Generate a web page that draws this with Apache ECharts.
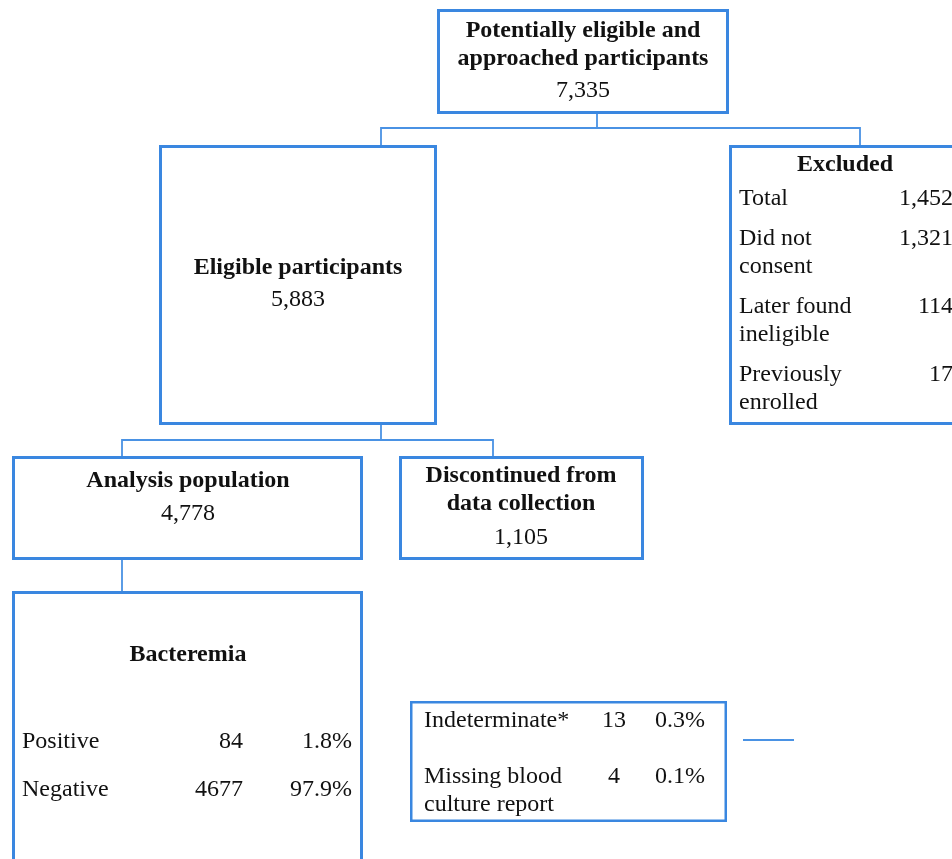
<!DOCTYPE html>
<html>
<head>
<meta charset="utf-8">
<script src="https://cdn.jsdelivr.net/npm/echarts@6/dist/echarts.min.js"></script>
<style>
html,body{margin:0;padding:0;background:#fff;}
#chart{width:952px;height:859px;}
</style>
</head>
<body>
<div id="chart"></div>
<script>
// ---- data ----
const flowTitles = ['Potentially eligible and\napproached participants', 'Eligible participants', 'Excluded', 'Analysis population', 'Discontinued from\ndata collection'];
const flowCounts = [7335, 5883, 1452, 4778, 1105];
const excludedReasons = ['Total', 'Did not\nconsent', 'Later found\nineligible', 'Previously\nenrolled'];
const excludedCounts = [1452, 1321, 114, 17];
const bacteremiaTitle = 'Bacteremia';
const bacteremiaCategories = ['Positive', 'Negative'];
const bacteremiaCounts = [84, 4677];
const bacteremiaPct = [1.8, 97.9];
const otherCategories = ['Indeterminate*', 'Missing blood\nculture report'];
const otherCounts = [13, 4];
const otherPct = [0.3, 0.1];

// ---- layout (positions / styles) ----
const BOX = '#3a87e0';
const LINE = '#4a92e4';
const TXT = '#111';
const FONT = '"Liberation Serif", "Times New Roman", serif';
const FS = 24;
const LH = 28;
const DY = 1;

// boxes: [x, y, w, h] outer edges
const boxes = [
  [437, 9, 292, 105],
  [159, 145, 278, 280],
  [729, 145, 226, 280],
  [12, 456, 351, 104],
  [399, 456, 245, 104],
];
const bactBox = [12, 591, 351, 275];
const otherBox = [410, 701, 317, 121];

const els = [];
function rect(b, lw) {
  els.push({type: 'rect', shape: {x: b[0] + lw / 2, y: b[1] + lw / 2, width: b[2] - lw, height: b[3] - lw},
    style: {fill: '#fff', stroke: BOX, lineWidth: lw}, z: 2});
}
function text(t, x, y, align, bold) {
  els.push({type: 'text', x: x, y: y + DY, z: 3, style: {text: t, textAlign: align, textVerticalAlign: 'middle',
    font: (bold ? 'bold ' : '') + FS + 'px ' + FONT, fill: TXT}});
}
function line(pts) {
  els.push({type: 'polyline', shape: {points: pts}, style: {stroke: LINE, lineWidth: 1.8, fill: null}, z: 1});
}
function lines(t, x, y, align, bold) {
  t.split('\n').forEach((s, i) => text(s, x, y + i * LH, align, bold));
}
const fmt = v => v.toLocaleString('en-US');

// connectors
line([[597, 114], [597, 128]]);
line([[381, 145], [381, 128], [860, 128], [860, 145]]);
line([[381, 425], [381, 440]]);
line([[122, 456], [122, 440], [493, 440], [493, 456]]);
line([[122, 560], [122, 591]]);
line([[743, 740], [794, 740]]);

boxes.forEach(b => rect(b, 3));
rect(bactBox, 3);
rect(otherBox, 2.5);

// top box
lines(flowTitles[0], 583, 30, 'center', true);
text(fmt(flowCounts[0]), 583, 90, 'center');
// eligible
lines(flowTitles[1], 298, 267, 'center', true);
text(fmt(flowCounts[1]), 298, 299, 'center');
// excluded
text(flowTitles[2], 845, 164, 'center', true);
const exY = [198, 238, 306, 374];
excludedReasons.forEach((r, i) => {
  lines(r, 739, exY[i], 'left');
  text(fmt(excludedCounts[i]), 953, exY[i], 'right');
});
// analysis
lines(flowTitles[3], 188, 480, 'center', true);
text(fmt(flowCounts[3]), 188, 513, 'center');
// discontinued
lines(flowTitles[4], 521, 475, 'center', true);
text(fmt(flowCounts[4]), 521, 537, 'center');
// bacteremia
text(bacteremiaTitle, 188, 654, 'center', true);
const bY = [741, 789];
bacteremiaCategories.forEach((c, i) => {
  text(c, 22, bY[i], 'left');
  text(String(bacteremiaCounts[i]), 243, bY[i], 'right');
  text(bacteremiaPct[i].toFixed(1) + '%', 352, bY[i], 'right');
});
// other
const oY = [720, 776];
otherCategories.forEach((c, i) => {
  lines(c, 424, oY[i], 'left');
  text(String(otherCounts[i]), 614, oY[i], 'center');
  text(otherPct[i].toFixed(1) + '%', 705, oY[i], 'right');
});

const chart = echarts.init(document.getElementById('chart'));
chart.setOption({animation: false, graphic: {elements: els}});
</script>
</body>
</html>
